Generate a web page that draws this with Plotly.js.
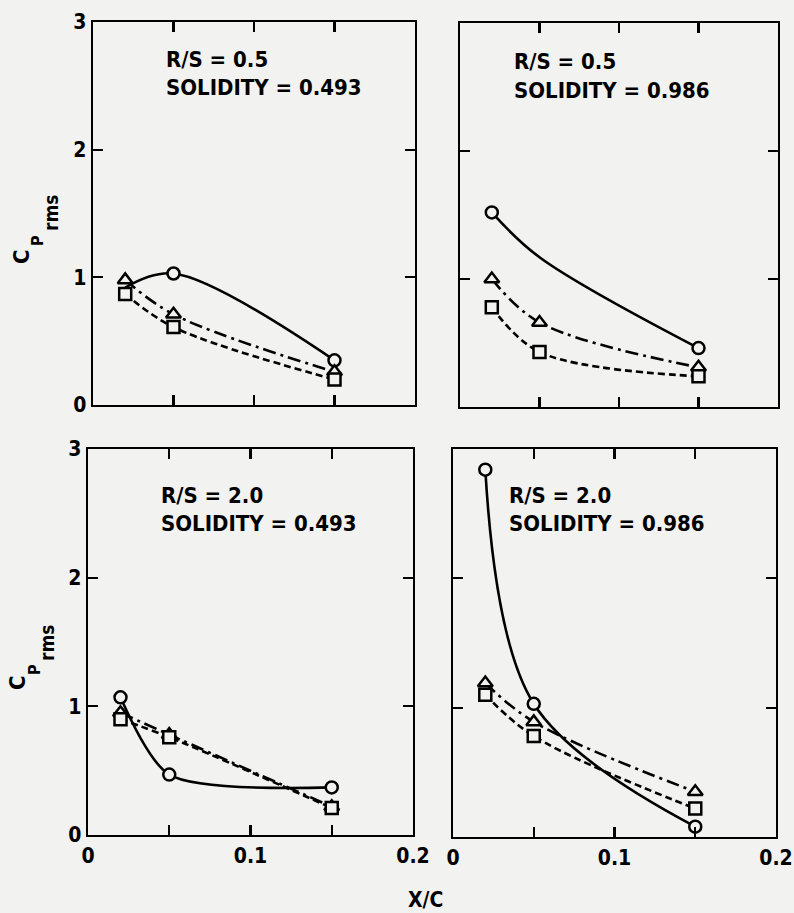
<!DOCTYPE html>
<html>
<head>
<meta charset="utf-8">
<script src="https://cdn.plot.ly/plotly-3.0.1.min.js"></script>
<style>html,body{margin:0;padding:0;background:#f2f2f0;}#chart{width:794px;height:913px;}</style>
</head>
<body>
<div id="chart"></div>
<script>
// ---- data ----
const xc = [0.02, 0.05, 0.15];                 // X/C stations
const xTickVals = [0, 0.05, 0.1, 0.15, 0.2];
const xTickText = ['0', '', '0.1', '', '0.2'];
const yTickVals = [0, 1, 2, 3];
const yTickText = ['0', '1', '2', '3'];
const panelRS = ['0.5', '0.5', '2.0', '2.0'];
const panelSolidity = ['0.493', '0.986', '0.493', '0.986'];

// circle (solid), triangle (dash-dot), square (dashed)
const circleTL = [0.92, 1.03, 0.35];
const triTL    = [0.98, 0.71, 0.26];
const sqTL     = [0.87, 0.61, 0.20];

const circleTR = [1.52, 1.17, 0.46];
const triTR    = [1.00, 0.66, 0.31];
const sqTR     = [0.78, 0.43, 0.24];

const circleBL = [1.07, 0.47, 0.37];
const triBL    = [0.95, 0.78, 0.22];
const sqBL     = [0.90, 0.76, 0.21];

const circleBR = [2.84, 1.03, 0.08];
const triBR    = [1.19, 0.89, 0.35];
const sqBR     = [1.10, 0.78, 0.22];

// which circle symbols are visible (1) or hidden behind others / not plotted (0)
const circleShownTL = [0, 1, 1];
const circleShownTR = [1, 0, 1];
const circleShownBL = [1, 1, 1];
const circleShownBR = [1, 1, 1];

// ---- styling ----
const W = 794, H = 913;
const BG = '#f2f2f0';
const FONT = '"DejaVu Sans Condensed", "Liberation Sans Narrow", "DejaVu Sans", sans-serif';
const px = v => v / W;
const py = v => 1 - v / H;

function series(y, sym, dash, xa, ya, shown, smooth) {
  return {
    x: xc, y: y, xaxis: xa, yaxis: ya, type: 'scatter', mode: 'lines+markers',
    cliponaxis: false, showlegend: false, hoverinfo: 'skip',
    line: {color: 'black', width: 2.6, shape: 'spline', smoothing: smooth || 1, dash: dash},
    marker: {symbol: sym, size: sym === 'triangle-up' ? 13 : 12, color: BG,
             opacity: shown || [1, 1, 1], line: {color: 'black', width: 2.5}}
  };
}
const DASHDOT = '13px,5px,3px,5px';
const DASH = '7px,4px';

const panels = [
  {xa: 'x',  ya: 'y',  c: circleTL, t: triTL, s: sqTL, cs: circleShownTL, sm: 1},
  {xa: 'x2', ya: 'y2', c: circleTR, t: triTR, s: sqTR, cs: circleShownTR, sm: 1},
  {xa: 'x3', ya: 'y3', c: circleBL, t: triBL, s: sqBL, cs: circleShownBL, sm: 0.75},
  {xa: 'x4', ya: 'y4', c: circleBR, t: triBR, s: sqBR, cs: circleShownBR, sm: 1}
];
const traces = [];
panels.forEach(p => {
  traces.push(series(p.c, 'circle', 'solid', p.xa, p.ya, p.cs, p.sm));
  traces.push(series(p.t, 'triangle-up', DASHDOT, p.xa, p.ya));
  traces.push(series(p.s, 'square', DASH, p.xa, p.ya));
});

function xaxis(dom, labels, anchor) {
  return {domain: dom, range: [0, 0.2], tickvals: xTickVals, ticktext: labels ? xTickText : ['', '', '', '', ''],
    ticks: 'inside', ticklen: 10, tickwidth: 2.2, tickcolor: 'black', showline: true, linecolor: 'black',
    linewidth: 2.4, mirror: 'ticks', showgrid: false, zeroline: false, fixedrange: true, anchor: anchor,
    tickfont: {family: FONT, size: 21, color: 'black', weight: 700}};
}
function yaxis(dom, labels, anchor) {
  return {domain: dom, range: [0, 3], tickvals: yTickVals, ticktext: labels ? yTickText : ['', '', '', ''],
    ticks: 'inside', ticklen: 10, tickwidth: 2.2, tickcolor: 'black', showline: true, linecolor: 'black',
    linewidth: 2.4, mirror: 'ticks', showgrid: false, zeroline: false, fixedrange: true, anchor: anchor,
    tickfont: {family: FONT, size: 21, color: 'black', weight: 700}};
}

const annotations = [];
function txt(text, x, y, size, opts) {
  annotations.push(Object.assign({text: text, x: px(x), y: py(y), xref: 'paper', yref: 'paper',
    showarrow: false, xanchor: 'left', yanchor: 'middle',
    font: {family: FONT, size: size, color: 'black', weight: 700}}, opts || {}));
}
// panel labels
const labelPos = [[164, 59, 88], [512, 62, 90], [159, 495, 523], [507, 495, 523]];
labelPos.forEach((p, i) => {
  txt('R/S = ' + panelRS[i], p[0], p[1], 22);
  txt('SOLIDITY = ' + panelSolidity[i], p[0], p[2], 22);
});
// y titles: C_P rms (rotated)
[[21, 257, 38, 241, 51, 213], [17, 683, 34, 670, 47, 643]].forEach(q => {
  txt('C', q[0], q[1], 22, {textangle: -90, xanchor: 'center', yanchor: 'middle'});
  txt('P', q[2], q[3], 16, {textangle: -90, xanchor: 'center', yanchor: 'middle'});
  txt('rms', q[4], q[5], 19, {textangle: -90, xanchor: 'center', yanchor: 'middle'});
});
// x title
txt('X/C', 425, 900, 21, {xanchor: 'center'});

const layout = {
  width: W, height: H, margin: {l: 0, r: 0, t: 0, b: 0},
  paper_bgcolor: BG, plot_bgcolor: BG, showlegend: false,
  xaxis:  xaxis([px(93), px(415)], false, 'y'),
  yaxis:  yaxis([py(405), py(22)], true, 'x'),
  xaxis2: xaxis([px(460), px(778)], false, 'y2'),
  yaxis2: yaxis([py(407), py(23)], false, 'x2'),
  xaxis3: xaxis([px(88), px(413)], true, 'y3'),
  yaxis3: yaxis([py(835), py(449)], true, 'x3'),
  xaxis4: xaxis([px(453), px(776)], true, 'y4'),
  yaxis4: yaxis([py(837), py(449)], false, 'x4'),
  annotations: annotations
};

Plotly.newPlot('chart', traces, layout, {staticPlot: true, displayModeBar: false});
</script>
</body>
</html>
